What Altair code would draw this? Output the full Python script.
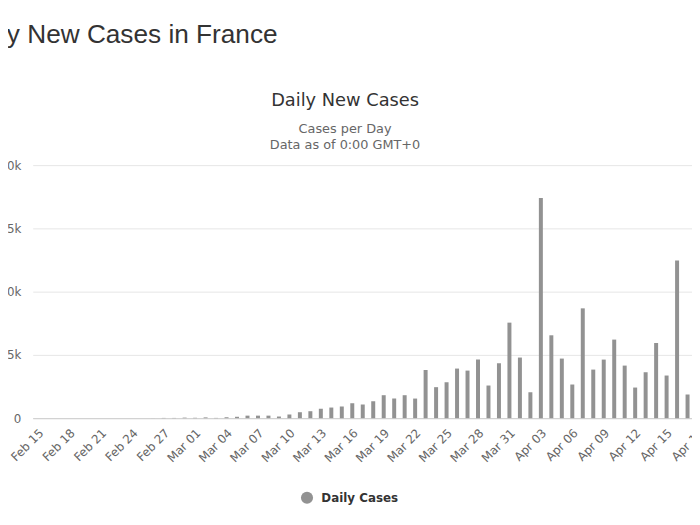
import altair as alt
import pandas as pd

MAIN_TITLE = "Daily New Cases in France"
CHART_TITLE = "Daily New Cases"
SUBTITLE_1 = "Cases per Day"
SUBTITLE_2 = "Data as of 0:00 GMT+0"
SERIES_NAME = "Daily Cases"

DATES = [
    "Feb 15", "Feb 16", "Feb 17", "Feb 18", "Feb 19", "Feb 20", "Feb 21", "Feb 22",
    "Feb 23", "Feb 24", "Feb 25", "Feb 26", "Feb 27", "Feb 28", "Feb 29",
    "Mar 01", "Mar 02", "Mar 03", "Mar 04", "Mar 05", "Mar 06", "Mar 07", "Mar 08",
    "Mar 09", "Mar 10", "Mar 11", "Mar 12", "Mar 13", "Mar 14", "Mar 15", "Mar 16",
    "Mar 17", "Mar 18", "Mar 19", "Mar 20", "Mar 21", "Mar 22", "Mar 23", "Mar 24",
    "Mar 25", "Mar 26", "Mar 27", "Mar 28", "Mar 29", "Mar 30", "Mar 31",
    "Apr 01", "Apr 02", "Apr 03", "Apr 04", "Apr 05", "Apr 06", "Apr 07", "Apr 08",
    "Apr 09", "Apr 10", "Apr 11", "Apr 12", "Apr 13", "Apr 14", "Apr 15", "Apr 16",
    "Apr 17",
]
EXTRA_AXIS_DATES = ["Apr 18"]

DAILY_CASES = [
    0, 0, 0, 0, 0, 0, 0, 0,
    0, 0, 2, 4, 20, 19, 43,
    30, 61, 21, 73, 110, 200, 200, 200,
    130, 290, 470, 550, 740, 840, 920, 1180,
    1080, 1340, 1815, 1550, 1815, 1550, 3810, 2450,
    2840, 3920, 3760, 4630, 2580, 4340, 7550,
    4790, 2050, 17410, 6550, 4710, 2660, 8680, 3840,
    4630, 6210, 4155, 2420, 3630, 5940, 3370, 12470,
    1870,
]

TICK_LABELS = [
    "Feb 15", "Feb 18", "Feb 21", "Feb 24", "Feb 27", "Mar 01", "Mar 04", "Mar 07",
    "Mar 10", "Mar 13", "Mar 16", "Mar 19", "Mar 22", "Mar 25", "Mar 28", "Mar 31",
    "Apr 03", "Apr 06", "Apr 09", "Apr 12", "Apr 15", "Apr 18",
]
Y_TICKS = [0, 5000, 10000, 15000, 20000]

df = pd.DataFrame({"date": DATES, "cases": DAILY_CASES, "series": SERIES_NAME})

bars = alt.Chart(df).mark_bar(opacity=1).encode(
    x=alt.X(
        "date:N",
        sort=None,
        scale=alt.Scale(domain=DATES + EXTRA_AXIS_DATES, paddingInner=0.62, paddingOuter=0.31),
        axis=alt.Axis(
            title=None,
            values=TICK_LABELS,
            labelAngle=-45,
            labelFont="DejaVu Sans",
            labelFontSize=12,
            labelColor="#666666",
            labelPadding=9,
            ticks=False,
            domain=True,
            domainColor="#cccccc",
            domainWidth=1,
            grid=False,
            labelOverlap=False,
        ),
    ),
    y=alt.Y(
        "cases:Q",
        scale=alt.Scale(domain=[0, 20000], nice=False),
        axis=alt.Axis(
            title=None,
            values=Y_TICKS,
            labelExpr="datum.value == 0 ? '0' : (datum.value / 1000) + 'k'",
            labelFont="DejaVu Sans",
            labelFontSize=12,
            labelColor="#666666",
            labelPadding=12,
            ticks=False,
            domain=False,
            grid=True,
            gridColor="#e6e6e6",
            gridWidth=1,
        ),
    ),
    color=alt.Color(
        "series:N",
        scale=alt.Scale(domain=[SERIES_NAME], range=["#929292"]),
        legend=alt.Legend(
            title=None,
            orient="none",
            legendX=271,
            legendY=330,
            symbolType="circle",
            symbolSize=150,
            symbolStrokeWidth=0,
            symbolOpacity=1,
            labelFont="DejaVu Sans",
            labelFontSize=12,
            labelFontWeight="bold",
            labelColor="#333333",
            labelOffset=8,
        ),
    ),
)

main_title = alt.Chart(pd.DataFrame({"label": [MAIN_TITLE]})).mark_text(
    align="left", baseline="alphabetic", font="Liberation Sans", fontSize=26.5, color="#333333"
).encode(text="label:N", x=alt.value(-71.8), y=alt.value(-123.5))

chart_title = alt.Chart(pd.DataFrame({"label": [CHART_TITLE]})).mark_text(
    align="center", baseline="alphabetic", font="DejaVu Sans", fontSize=18, color="#333333"
).encode(text="label:N", x=alt.value(316), y=alt.value(-59.5))

sub1 = alt.Chart(pd.DataFrame({"label": [SUBTITLE_1]})).mark_text(
    align="center", baseline="alphabetic", font="DejaVu Sans", fontSize=13, color="#666666"
).encode(text="label:N", x=alt.value(316), y=alt.value(-32.5))

sub2 = alt.Chart(pd.DataFrame({"label": [SUBTITLE_2]})).mark_text(
    align="center", baseline="alphabetic", font="DejaVu Sans", fontSize=13, color="#666666"
).encode(text="label:N", x=alt.value(316), y=alt.value(-16.5))

chart = alt.layer(bars, main_title, chart_title, sub1, sub2).properties(
    width=678.4,
    height=256,
    autosize=alt.AutoSizeParams(type="none"),
    padding={"left": 25, "top": 156, "right": -11.4, "bottom": 95},
    background="white",
).configure_view(strokeWidth=0)

chart.save("out.html", embed_options={"renderer": "svg", "actions": False})
